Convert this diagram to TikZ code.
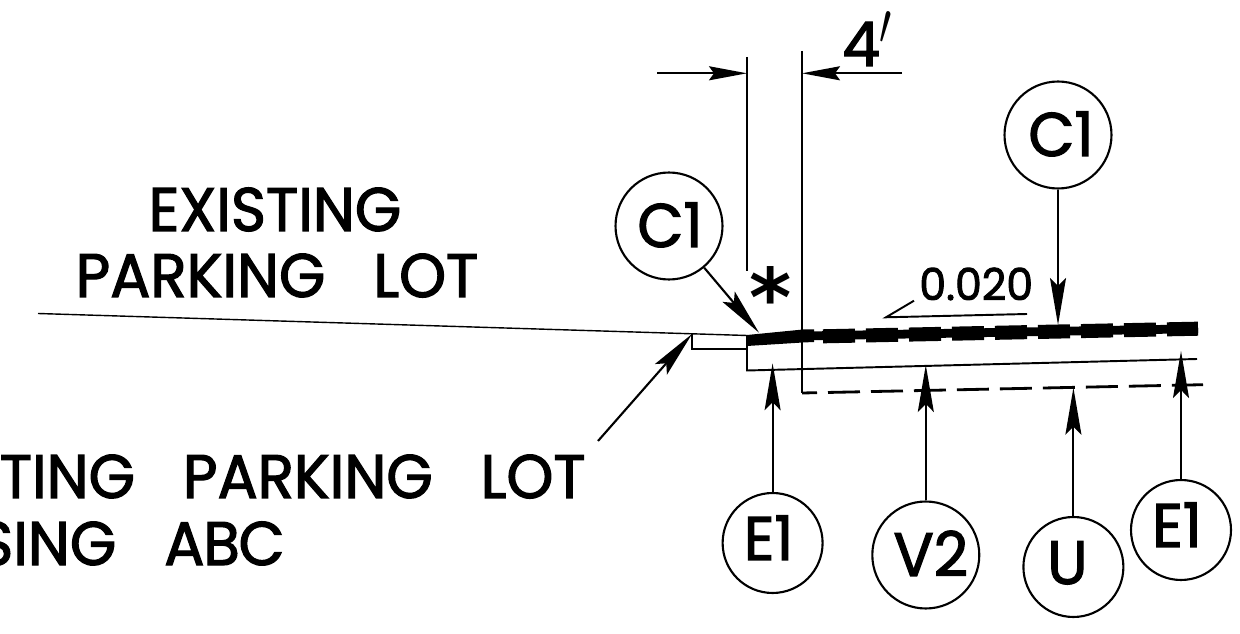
\documentclass[tikz,border=0pt]{standalone}
\usepackage{fontspec}
\setmainfont{Poppins}[FakeBold=2, FakeStretch=0.97]
\newfontfamily\starfont{DejaVu Sans}
\usetikzlibrary{arrows.meta}
\newcommand{\nudge}[3]{\raisebox{\dimexpr-0.42cm+0.02cm*#2\relax}[0pt][0pt]{\makebox[0pt]{\hspace*{\dimexpr0.04cm*#1\relax}#3}}}
\tikzset{
  label text/.style={inner sep=0pt, font=\fontsize{35}{35}\selectfont},
  tag small/.style={draw, circle, line width=1.2pt, inner sep=0pt, minimum size=2cm, font=\fontsize{35}{35}\selectfont},
  tag big/.style={draw, circle, line width=1.2pt, inner sep=0pt, minimum size=2.14cm, font=\fontsize{35}{35}\selectfont},
  pointer/.style={line width=1.2pt, -{Stealth[length=0.94cm, width=0.32cm, inset=0.16cm]}},
  dimarrow/.style={line width=1.2pt, -{Stealth[length=0.76cm, width=0.28cm, inset=0.1cm]}},
  outline/.style={line width=1.1pt}
}
\begin{document}
\begin{tikzpicture}[x=0.02cm, y=-0.02cm]
    \useasboundingbox (0,0) rectangle (1240,634);

    % Existing surface
    \draw[line width=0.8pt] (38,313.5) -- (747,335.5);
    \draw[outline] (692,334) -- (692,349) -- (747,349);

    % Overlay section
    \draw[outline] (747,335.5) -- (747,370.5) -- (1197,359);
    \fill (747,335) -- (803,329.5) -- (814,329.5) -- (814,342) -- (803,342.5) -- (747,346) -- cycle;
    \draw[line width=5pt] (803,336) -- (1198,328.7);
    \draw[line width=8pt, dash pattern=on 32*0.02cm off 11*0.02cm] (823,336.3) -- (1198,328.7);

    % Subgrade
    \draw[outline] (802,305) -- (802,393);
    \draw[line width=1.6pt, dash pattern=on 32*0.02cm off 11*0.02cm, dash phase=17*0.02cm] (802,393) -- (1203,384.7);

    % Dimension
    \coordinate (exttopa) at (747,57);
    \coordinate (extbota) at (747,271);
    \coordinate (exttopb) at (802,51);
    \coordinate (extbotb) at (802,305);
    \draw[outline] (exttopa) -- (extbota);
    \draw[outline] (exttopb) -- (extbotb);
    \coordinate (dimleft) at (657,73.3);
    \coordinate (dimlefttip) at (747,73.3);
    \coordinate (dimright) at (902,73.3);
    \coordinate (dimrighttip) at (802,73.3);
    \draw[dimarrow] (dimleft) -- (dimlefttip);
    \draw[dimarrow] (dimright) -- (dimrighttip);
    \node[label text, anchor=base west] (dimtext) at (842,66) {4\scalebox{1}[1.35]{$'$}};

    % Slope
    \coordinate (slopea) at (914,300.7);
    \coordinate (slopeb) at (886,317.3);
    \coordinate (slopec) at (1027,314);
    \draw[outline] (slopea) -- (slopeb) -- (slopec);
    \node[inner sep=0pt, anchor=base west, font=\fontsize{25}{25}\selectfont] (slopetext) at (919,300) {0.020};

    % Star
    \node[inner sep=0pt, font=\fontsize{46}{46}\selectfont\starfont\bfseries] (star) at (771,297) {*};

    % Labels
    \node[label text, anchor=base] (existing) at (275,231) {EXISTING};
    \node[label text, anchor=base] (lot) at (277,297) {PARKING\hspace{0.78em}LOT};
    \node[label text, anchor=base east] (overlay) at (586,498) {TING\hspace{0.78em}PARKING\hspace{0.78em}LOT};
    \node[label text, anchor=base east] (using) at (285,565) {SING\hspace{0.78em}A\kern-0.02em B\kern-0.02em C};

    % Tags
    \node[tag big] (cleft) at (669,226) {\nudge{1}{0}{C1}};
    \node[tag big] (cright) at (1058,135) {\nudge{3}{0}{C1}};
    \node[tag small] (eleft) at (772.6,543) {\nudge{-4}{4}{E1}};
    \node[tag big] (vtwo) at (925.8,555) {\nudge{5}{0}{V2}};
    \node[tag small] (utag) at (1073.4,567) {\nudge{-6}{4}{U}};
    \node[tag small] (eright) at (1181,530) {\nudge{-4}{4}{E1}};

    % Leaders
    \coordinate (cleftip) at (759,332.7);
    \coordinate (crighttip) at (1058,325);
    \coordinate (elefttip) at (772.6,363.3);
    \coordinate (vtwotip) at (925.8,365);
    \coordinate (utip) at (1073.4,387.7);
    \coordinate (erighttip) at (1181,351);
    \coordinate (overlayfoot) at (598,441);
    \coordinate (overlaytip) at (692,334);
    \draw[pointer] (cleft) -- (cleftip);
    \draw[pointer] (cright) -- (crighttip);
    \draw[pointer] (eleft) -- (elefttip);
    \draw[pointer] (vtwo) -- (vtwotip);
    \draw[pointer] (utag) -- (utip);
    \draw[pointer] (eright) -- (erighttip);
    \draw[pointer] (overlayfoot) -- (overlaytip);
\end{tikzpicture}
\end{document}
